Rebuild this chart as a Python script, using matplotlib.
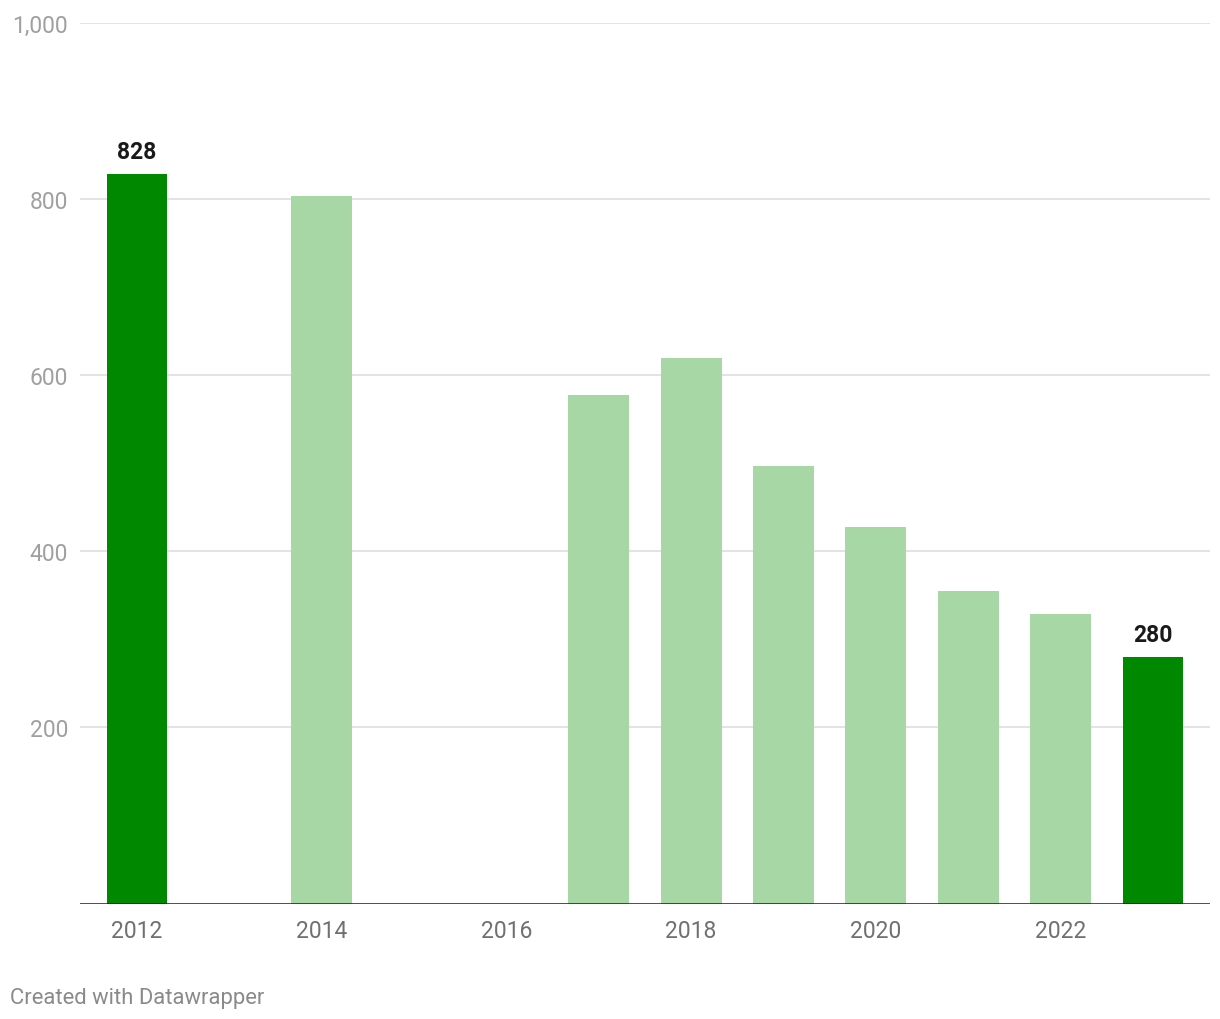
import matplotlib.pyplot as plt

# values
years = [2012, 2014, 2017, 2018, 2019, 2020, 2021, 2022, 2023]
values = [828, 804, 577, 620, 497, 428, 355, 329, 280]
highlight = [True, False, False, False, False, False, False, False, True]
yticks = [200, 400, 600, 800, 1000]
xticks = [2012, 2014, 2016, 2018, 2020, 2022]

darkGreen = "#008800"
lightGreen = "#a8d7a6"

plt.rcParams["font.family"] = ["Roboto", "DejaVu Sans"]

fig = plt.figure(figsize=(12.2, 10.2), dpi=100)
ax = fig.add_axes([80 / 1220, 115.5 / 1020, 1130 / 1220, 880.5 / 1020])

colors = [darkGreen if h else lightGreen for h in highlight]
ax.bar(years, values, width=0.66, color=colors, zorder=2)

# value labels only on highlighted bars
for yr, v, h in zip(years, values, highlight):
    if h:
        ax.annotate(f"{v}", xy=(yr, v), xytext=(0, 8), textcoords="offset points",
                    ha="center", va="bottom", fontsize=16.5, fontweight="bold", color="#1a1a1a")

ax.set_xlim(2011.383, 2023.617)
ax.set_ylim(0, 1000)

ax.set_yticks(yticks)
ax.set_yticklabels([f"{t:,}" for t in yticks])
ax.set_xticks(xticks)
ax.set_xticklabels([str(t) for t in xticks])

ax.grid(axis="y", color="#e0e0e0", linewidth=1.3, zorder=0)
ax.axhline(0, color="#1a1a1a", linewidth=1.8, zorder=3)

for s in ax.spines.values():
    s.set_visible(False)

ax.tick_params(axis="y", length=0, pad=8.6, labelsize=16.5, labelcolor="#a0a0a0")
ax.tick_params(axis="x", length=0, pad=11, labelsize=16.5, labelcolor="#707070")

fig.text(10 / 1220, 1 - 999 / 1020, "Created with Datawrapper", ha="left", va="center",
         fontsize=15.8, color="#8a8a8a")

fig.savefig("out.png", dpi=100)
